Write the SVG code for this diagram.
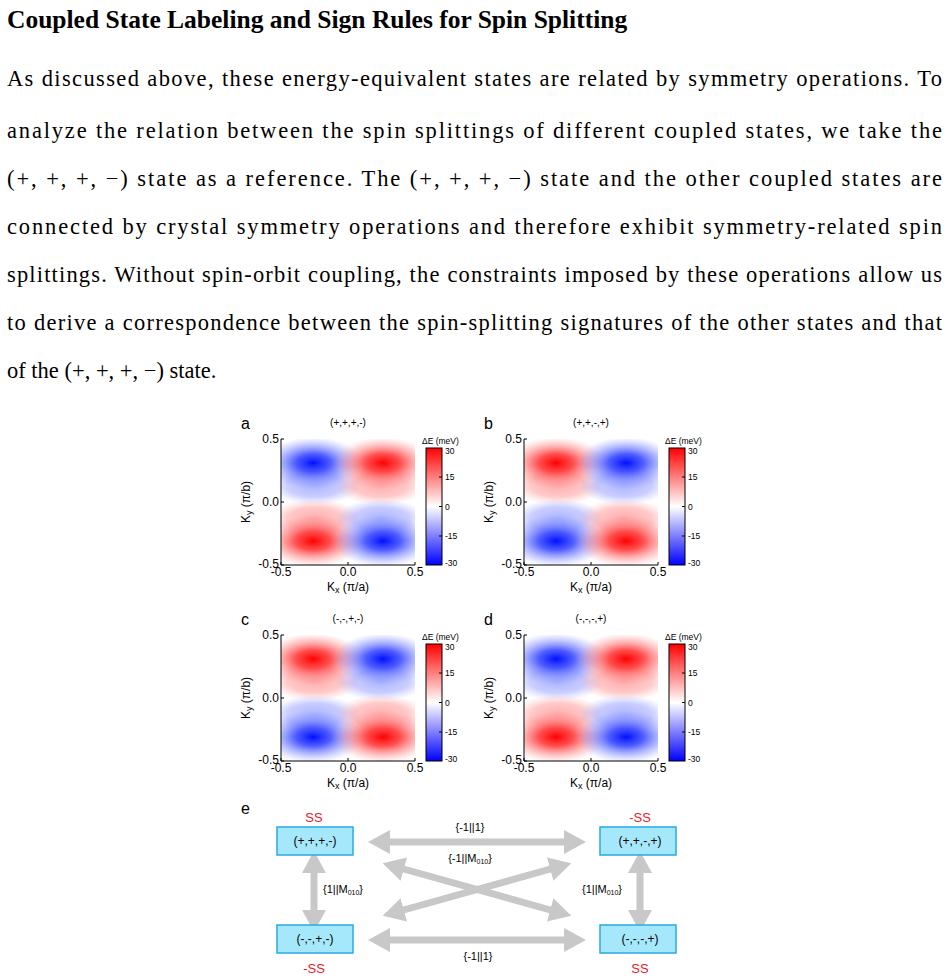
<svg xmlns="http://www.w3.org/2000/svg" width="948" height="980" viewBox="0 0 948 980">
<style>
.t{font-family:"Liberation Serif",serif;font-size:22.5px;fill:#000}
.s{font-family:"Liberation Sans",Arial,sans-serif;fill:#000}
.tk{font-size:12px}
.sm{font-size:8.5px}
.bx{fill:#a6e8fb;stroke:#29abe2;stroke-width:1.5}
.ar{stroke:#c8c8c8;stroke-width:7;fill:none;marker-start:url(#ah);marker-end:url(#ah)}
.red{font-family:"Liberation Sans",Arial,sans-serif;font-size:13px;fill:#e8202a}
</style>
<defs>
<marker id="ah" markerUnits="userSpaceOnUse" markerWidth="22" markerHeight="24" refX="4" refY="12" orient="auto-start-reverse"><path d="M0,0 L22,12 L0,24 Z" fill="#c8c8c8"/></marker>
<radialGradient id="B"><stop offset="0" stop-color="#0010ff"/><stop offset="0.35" stop-color="#3040ff" stop-opacity="0.85"/><stop offset="1" stop-color="#8090ff" stop-opacity="0"/></radialGradient>
<radialGradient id="R"><stop offset="0" stop-color="#ff0000"/><stop offset="0.35" stop-color="#ff3030" stop-opacity="0.85"/><stop offset="1" stop-color="#ff9090" stop-opacity="0"/></radialGradient>
<radialGradient id="b2"><stop offset="0" stop-color="#7080ff" stop-opacity="0.6"/><stop offset="0.6" stop-color="#8890ff" stop-opacity="0.45"/><stop offset="1" stop-color="#a0a8ff" stop-opacity="0"/></radialGradient>
<radialGradient id="r2"><stop offset="0" stop-color="#ff7070" stop-opacity="0.6"/><stop offset="0.6" stop-color="#ff8888" stop-opacity="0.45"/><stop offset="1" stop-color="#ffa0a0" stop-opacity="0"/></radialGradient>
<linearGradient id="cb" x1="0" y1="0" x2="0" y2="1"><stop offset="0" stop-color="#ff0000"/><stop offset="0.5" stop-color="#ffffff"/><stop offset="1" stop-color="#0000ff"/></linearGradient>
<clipPath id="pc"><rect x="0" y="0" width="134" height="126"/></clipPath>
<g id="pA">
<rect x="0" y="0" width="134" height="126" fill="#fff"/>
<g clip-path="url(#pc)">
<ellipse cx="34" cy="46" rx="46" ry="20" fill="url(#b2)"/><ellipse cx="32" cy="24" rx="50" ry="26" fill="url(#B)"/>
<ellipse cx="100" cy="46" rx="46" ry="20" fill="url(#r2)"/><ellipse cx="102" cy="24" rx="50" ry="26" fill="url(#R)"/>
<ellipse cx="34" cy="80" rx="46" ry="20" fill="url(#r2)"/><ellipse cx="32" cy="102" rx="50" ry="26" fill="url(#R)"/>
<ellipse cx="100" cy="80" rx="46" ry="20" fill="url(#b2)"/><ellipse cx="102" cy="102" rx="50" ry="26" fill="url(#B)"/>
</g></g>
<g id="pB">
<rect x="0" y="0" width="134" height="126" fill="#fff"/>
<g clip-path="url(#pc)">
<ellipse cx="34" cy="46" rx="46" ry="20" fill="url(#r2)"/><ellipse cx="32" cy="24" rx="50" ry="26" fill="url(#R)"/>
<ellipse cx="100" cy="46" rx="46" ry="20" fill="url(#b2)"/><ellipse cx="102" cy="24" rx="50" ry="26" fill="url(#B)"/>
<ellipse cx="34" cy="80" rx="46" ry="20" fill="url(#b2)"/><ellipse cx="32" cy="102" rx="50" ry="26" fill="url(#B)"/>
<ellipse cx="100" cy="80" rx="46" ry="20" fill="url(#r2)"/><ellipse cx="102" cy="102" rx="50" ry="26" fill="url(#R)"/>
</g></g>
<g id="ax">
<path d="M0,0 V126 H134" fill="none" stroke="#000" stroke-width="1"/>
<path d="M0,0 h3 M0,63 h3 M0,126 h3 M0,126 v-3 M67,126 v-3 M134,126 v-3" stroke="#000"/>
<text class="s tk" x="-2" y="4" text-anchor="end">0.5</text>
<text class="s tk" x="-2" y="67" text-anchor="end">0.0</text>
<text class="s tk" x="-2" y="129" text-anchor="end">-0.5</text>
<text class="s tk" x="0" y="137" text-anchor="middle">-0.5</text>
<text class="s tk" x="67" y="137" text-anchor="middle">0.0</text>
<text class="s tk" x="134" y="137" text-anchor="middle">0.5</text>
<text class="s tk" x="67" y="152" text-anchor="middle">K<tspan font-size="9" dy="2">x</tspan><tspan dy="-2"> (π/a)</tspan></text>
<text class="s tk" transform="translate(-31,63) rotate(-90)" text-anchor="middle">K<tspan font-size="9" dy="2">y</tspan><tspan dy="-2"> (π/b)</tspan></text>
<rect x="145" y="9" width="16" height="117" fill="url(#cb)" stroke="#000" stroke-width="1"/>
<path d="M158,38 h3 M158,67.5 h3 M158,97 h3" stroke="#000"/>
<text class="s sm" x="141" y="5">ΔE (meV)</text>
<text class="s sm" x="164" y="15">30</text>
<text class="s sm" x="164" y="41">15</text>
<text class="s sm" x="164" y="71">0</text>
<text class="s sm" x="164" y="100">-15</text>
<text class="s sm" x="164" y="127">-30</text>
</g>
</defs>
<text x="7" y="28" font-family="Liberation Serif,serif" font-size="25.5" font-weight="bold">Coupled State Labeling and Sign Rules for Spin Splitting</text>
<text class="t" x="7" y="86" textLength="935">As discussed above, these energy-equivalent states are related by symmetry operations. To</text>
<text class="t" x="7" y="138" textLength="935">analyze the relation between the spin splittings of different coupled states, we take the</text>
<text class="t" x="7" y="186" textLength="935">(+, +, +, −) state as a reference. The (+, +, +, −) state and the other coupled states are</text>
<text class="t" x="7" y="234" textLength="935">connected by crystal symmetry operations and therefore exhibit symmetry-related spin</text>
<text class="t" x="7" y="282" textLength="935">splittings. Without spin-orbit coupling, the constraints imposed by these operations allow us</text>
<text class="t" x="7" y="330" textLength="935">to derive a correspondence between the spin-splitting signatures of the other states and that</text>
<text class="t" x="7" y="378">of the (+, +, +, −) state.</text>

<g id="panel-a" transform="translate(281,439)"><use href="#pA"/><use href="#ax"/>
<text class="s" x="-40" y="-10" font-size="16">a</text><text class="s" x="67" y="-13" font-size="10" text-anchor="middle">(+,+,+,-)</text></g>
<g id="panel-b" transform="translate(524,439)"><use href="#pB"/><use href="#ax"/>
<text class="s" x="-40" y="-10" font-size="16">b</text><text class="s" x="67" y="-13" font-size="10" text-anchor="middle">(+,+,-,+)</text></g>
<g id="panel-c" transform="translate(281,635)"><use href="#pB"/><use href="#ax"/>
<text class="s" x="-40" y="-10" font-size="16">c</text><text class="s" x="67" y="-13" font-size="10" text-anchor="middle">(-,-,+,-)</text></g>
<g id="panel-d" transform="translate(524,635)"><use href="#pA"/><use href="#ax"/>
<text class="s" x="-40" y="-10" font-size="16">d</text><text class="s" x="67" y="-13" font-size="10" text-anchor="middle">(-,-,-,+)</text></g>

<text class="s" x="241" y="814" font-size="16">e</text>
<g id="connectors">
<line class="ar" x1="386" y1="842" x2="568" y2="842"/>
<line class="ar" x1="386" y1="940" x2="568" y2="940"/>
<line class="ar" x1="314" y1="869" x2="314" y2="914"/>
<line class="ar" x1="640" y1="869" x2="640" y2="914"/>
<line class="ar" x1="400" y1="868" x2="554" y2="911"/>
<line class="ar" x1="400" y1="911" x2="554" y2="868"/>
</g>
<g id="labels" class="s" font-size="11">
<text x="470" y="831" text-anchor="middle">{-1||1}</text>
<text x="470" y="862" text-anchor="middle">{-1||M<tspan font-size="7" dy="2">010</tspan><tspan dy="-2">}</tspan></text>
<text x="323" y="893">{1||M<tspan font-size="7" dy="2">010</tspan><tspan dy="-2">}</tspan></text>
<text x="582" y="893">{1||M<tspan font-size="7" dy="2">010</tspan><tspan dy="-2">}</tspan></text>
<text x="478" y="960" text-anchor="middle">{-1||1}</text>
</g>
<g id="n1"><text class="red" x="314" y="822" text-anchor="middle">SS</text><rect class="bx" x="277" y="827" width="76" height="28"/><text class="s" font-size="12" x="315" y="845" text-anchor="middle">(+,+,+,-)</text></g>
<g id="n2"><text class="red" x="640" y="822" text-anchor="middle">-SS</text><rect class="bx" x="600" y="827" width="76" height="28"/><text class="s" font-size="12" x="640" y="845" text-anchor="middle">(+,+,-,+)</text></g>
<g id="n3"><text class="red" x="314" y="973" text-anchor="middle">-SS</text><rect class="bx" x="277" y="925" width="76" height="28"/><text class="s" font-size="12" x="315" y="943" text-anchor="middle">(-,-,+,-)</text></g>
<g id="n4"><text class="red" x="640" y="973" text-anchor="middle">SS</text><rect class="bx" x="600" y="925" width="76" height="28"/><text class="s" font-size="12" x="640" y="943" text-anchor="middle">(-,-,-,+)</text></g>
</svg>
